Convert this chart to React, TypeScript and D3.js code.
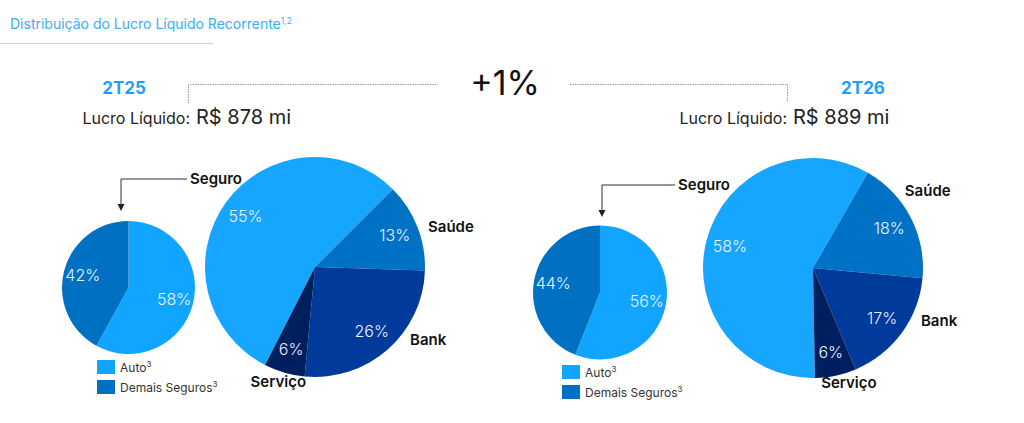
import * as d3 from "d3";

// data
const titleText = "Distribuição do Lucro Líquido Recorrente";
const periods = ["2T25", "2T26"];
const lucroValues = ["R$ 878 mi", "R$ 889 mi"];
const growthLabel = "+1%";
const segments = ["Seguro", "Saúde", "Bank", "Serviço"];
const segment2T25 = [55, 13, 26, 6];
const segment2T26 = [58, 18, 17, 6];
const seguroParts = ["Auto", "Demais Seguros"];
const seguro2T25 = [58, 42];
const seguro2T26 = [56, 44];

const width = 1024;
const height = 423;
const font = "Inter, 'Noto Sans', sans-serif";

const segmentColor = d3
  .scaleOrdinal<string, string>()
  .domain(segments)
  .range(["#17a6ff", "#0072c6", "#003a9a", "#001f5e"]);
const seguroColor = d3
  .scaleOrdinal<string, string>()
  .domain(seguroParts)
  .range(["#12a5ff", "#0070c2"]);

const deg = Math.PI / 180;

// layout of the two panels
const panels = [
  {
    period: periods[0],
    value: lucroValues[0],
    big: segment2T25,
    small: seguro2T25,
    headX: 124,
    lucroX: 190,
    smallPie: { cx: 128.5, cy: 287.5, r: 66.5 },
    bigPie: { cx: 315, cy: 267, r: 110, start: -153 },
    shift: [0, 2, -11, 1.6],
    legendX: 97,
    legendY: 360,
    arrow: { x: 121, y: 179, x2: 187, tip: 211 },
  },
  {
    period: periods[1],
    value: lucroValues[1],
    big: segment2T26,
    small: seguro2T26,
    headX: 863,
    lucroX: 787,
    smallPie: { cx: 600, cy: 292.5, r: 67 },
    bigPie: { cx: 813, cy: 268, r: 110, start: -181 },
    shift: [0, -12.7, -10.4, -5.5],
    legendX: 562,
    legendY: 365,
    arrow: { x: 602, y: 185, x2: 675, tip: 217 },
  },
];

function Panel({ p }: { p: (typeof panels)[number] }) {
  const bigArcs = d3
    .pie<number>()
    .sort(null)
    .startAngle(p.bigPie.start * deg)
    .endAngle(p.bigPie.start * deg + 2 * Math.PI)(p.big);
  const smallArcs = d3.pie<number>().sort(null)(p.small);
  const bigArc = d3.arc<d3.PieArcDatum<number>>().innerRadius(0).outerRadius(p.bigPie.r);
  const smallArc = d3.arc<d3.PieArcDatum<number>>().innerRadius(0).outerRadius(p.smallPie.r);
  const bigLabel = d3
    .arc<d3.PieArcDatum<number>>()
    .innerRadius(p.bigPie.r * 0.78)
    .outerRadius(p.bigPie.r * 0.78);
  const smallLabel = d3
    .arc<d3.PieArcDatum<number>>()
    .innerRadius(p.smallPie.r * 0.71)
    .outerRadius(p.smallPie.r * 0.71);
  const a = p.arrow;

  return (
    <g>
      <text x={p.headX} y={94} textAnchor="middle" fontFamily={font} fontWeight={700} fontSize={17} fill="#1a9fff">
        {p.period}
      </text>
      <text x={p.lucroX} y={124} textAnchor="end" fontFamily={font} fontSize={16} fill="#222">
        Lucro Líquido:
      </text>
      <text x={p.lucroX + 6} y={124} fontFamily={font} fontSize={20} fill="#222">
        {p.value}
      </text>

      {/* Seguro breakdown */}
      <g transform={`translate(${p.smallPie.cx},${p.smallPie.cy})`}>
        {smallArcs.map((d, i) => (
          <path key={i} d={smallArc(d) as string} fill={seguroColor(seguroParts[i])} />
        ))}
        {smallArcs.map((d, i) => {
          const [x, y] = smallLabel.centroid(d);
          return (
            <text key={i} x={x} y={y} dy="0.35em" textAnchor="middle" fontFamily={font} fontWeight={300} fontSize={16} fill="#e8f3ff">
              {p.small[i]}%
            </text>
          );
        })}
      </g>

      {/* arrow to small pie */}
      <path d={`M${a.x2},${a.y}H${a.x}V${a.tip - 6}`} fill="none" stroke="#333" strokeWidth={1} />
      <path d={`M${a.x - 3.5},${a.tip - 7}L${a.x + 3.5},${a.tip - 7}L${a.x},${a.tip}Z`} fill="#222" />
      <text x={a.x2 + 3} y={a.y} dy="0.35em" fontFamily={font} fontWeight={600} fontSize={15} fill="#111">
        {segments[0]}
      </text>

      {/* legend */}
      {seguroParts.map((s, i) => (
        <g key={s} transform={`translate(${p.legendX},${p.legendY + i * 20})`}>
          <rect width={18} height={14} fill={seguroColor(s)} />
          <text x={23} y={12} fontFamily={font} fontSize={12} fill="#333">
            {s}
            <tspan fontSize={8} dy={-5}>3</tspan>
          </text>
        </g>
      ))}

      {/* segments */}
      <g transform={`translate(${p.bigPie.cx},${p.bigPie.cy})`}>
        {bigArcs.map((d, i) => (
          <path key={i} d={bigArc(d) as string} fill={segmentColor(segments[i])} />
        ))}
        {bigArcs.map((d, i) => {
          const [x, y] = bigLabel.centroid(d);
          return (
            <text key={i} x={x} y={y} dy="0.35em" textAnchor="middle" fontFamily={font} fontWeight={300} fontSize={16} fill="#e8f3ff">
              {p.big[i]}%
            </text>
          );
        })}
        {bigArcs.map((d, i) => {
          if (i === 0) return null;
          const ang = (d.startAngle + d.endAngle) / 2 + p.shift[i] * deg;
          const rr = p.bigPie.r + 10;
          const x = rr * Math.sin(ang);
          const y = -rr * Math.cos(ang);
          const bottom = i === 3;
          return (
            <text key={i} x={x} y={y} dy="0.35em" textAnchor={bottom ? "middle" : "start"} fontFamily={font} fontWeight={600} fontSize={15} fill="#111">
              {segments[i]}
            </text>
          );
        })}
      </g>
    </g>
  );
}

export default function App() {
  return (
    <svg width={width} height={height} style={{ position: "absolute", left: 0, top: 0, background: "#fff" }}>
      <text x={10} y={29} fontFamily={font} fontSize={14} fill="#3aaef5">
        {titleText}
        <tspan fontSize={8.5} dy={-5}>1,2</tspan>
      </text>
      <line x1={0} x2={213} y1={43.5} y2={43.5} stroke="#cfcfcf" strokeWidth={1} />

      {/* growth bracket */}
      <path d="M188.5,103V84.5H438" fill="none" stroke="#999" strokeWidth={1} strokeDasharray="1.5 1" />
      <path d="M570,84.5H787.5V102" fill="none" stroke="#999" strokeWidth={1} strokeDasharray="1.5 1" />
      <text x={505} y={95} textAnchor="middle" fontFamily={font} fontSize={34} fill="#111">
        {growthLabel}
      </text>

      {panels.map((p) => (
        <Panel key={p.period} p={p} />
      ))}
    </svg>
  );
}
